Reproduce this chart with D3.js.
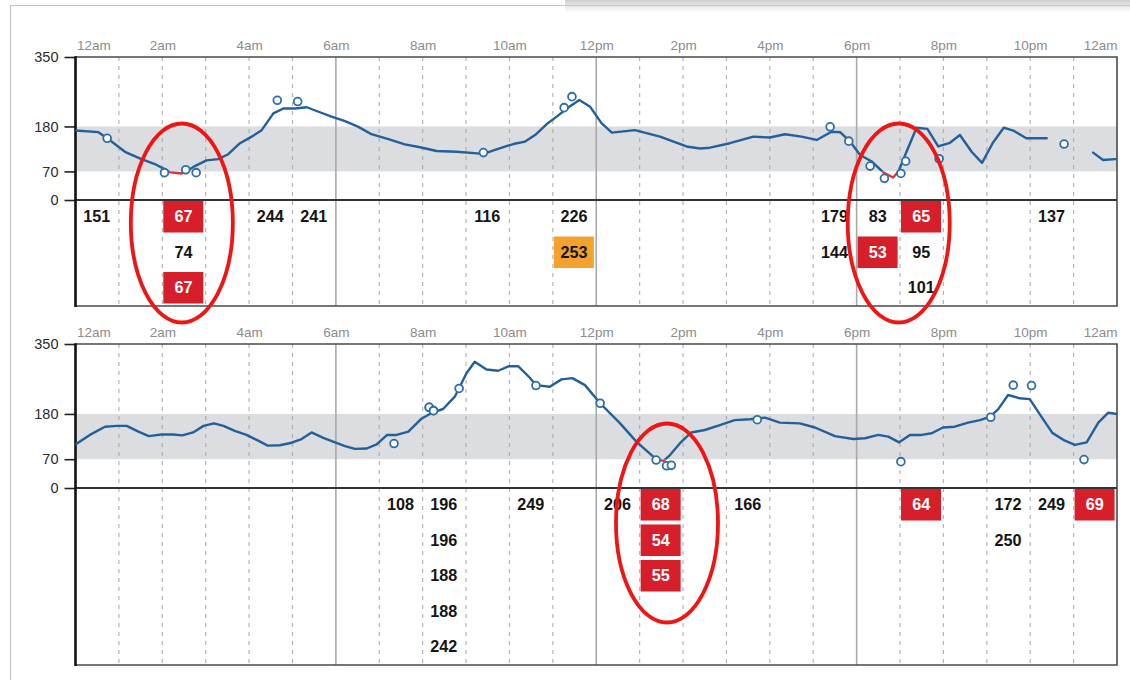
<!DOCTYPE html>
<html>
<head>
<meta charset="utf-8">
<script src="https://cdn.jsdelivr.net/npm/d3@7/dist/d3.min.js"></script>
<style>
  html, body { margin: 0; padding: 0; background: #fff; }
  svg { display: block; font-family: Arial, "Liberation Sans", Helvetica, sans-serif; }
</style>
</head>
<body>
<svg id="chart" width="1130" height="680"></svg>
<script>
// ---- data -------------------------------------------------------------
const hourLabels = ["12am", "2am", "4am", "6am", "8am", "10am", "12pm",
                    "2pm", "4pm", "6pm", "8pm", "10pm", "12am"];
const yTicks = [0, 70, 180, 350];
const targetRange = [70, 180];
const lowLimit = 70;
const highLimit = 250;

// sensor trace, [hour of day, mg/dL]; null marks a gap in the signal
const day1Sensor = [
  [0, 170], [0.53, 166], [0.83, 143], [1.14, 118], [1.52, 100], [1.83, 88],
  [2.06, 75], [2.18, 68], [2.45, 65], [2.6, 73], [2.75, 83], [3.02, 97],
  [3.29, 100], [3.52, 112], [3.79, 139], [4.06, 155], [4.29, 171], [4.56, 212],
  [4.79, 224], [5.06, 224], [5.33, 227], [5.6, 216], [5.9, 204], [6.21, 193],
  [6.52, 179], [6.82, 161], [7.21, 149], [7.59, 136], [7.94, 129], [8.32, 120],
  [8.78, 118], [9.4, 113], [9.7, 124], [10.09, 137], [10.36, 143], [10.59, 159],
  [10.86, 186], [11.09, 204], [11.32, 224], [11.61, 245], [11.86, 228], [12.12, 188],
  [12.36, 165], [12.89, 171], [13.47, 155], [14.08, 131], [14.39, 126], [14.62, 128],
  [15.08, 139], [15.62, 155], [16.0, 153], [16.35, 161], [16.73, 155], [17.08, 147],
  [17.42, 167], [17.62, 166], [17.85, 143], [18.08, 110], [18.34, 95], [18.61, 68],
  [18.84, 55], [18.96, 69], [19.15, 118], [19.38, 177], [19.63, 174], [19.88, 131],
  [20.15, 140], [20.38, 159], [20.65, 118], [20.89, 91], [21.14, 140], [21.39, 177],
  [21.61, 170], [21.91, 151], [22.38, 151], null,
  [23.45, 116], [23.68, 98], [23.95, 100], [24, 100]
];
const day2Sensor = [
  [0, 106], [0.33, 129], [0.68, 149], [0.95, 151], [1.18, 151], [1.45, 137],
  [1.69, 126], [1.98, 130], [2.25, 130], [2.46, 128], [2.71, 135], [2.95, 151],
  [3.19, 157], [3.41, 151], [3.67, 139], [3.94, 129], [4.21, 115], [4.43, 103],
  [4.71, 104], [4.98, 110], [5.21, 119], [5.44, 135], [5.71, 122], [5.98, 111],
  [6.21, 102], [6.44, 95], [6.71, 96], [6.94, 106], [7.18, 129], [7.4, 129],
  [7.67, 137], [7.98, 169], [8.24, 184], [8.47, 192], [8.74, 222], [9.01, 279],
  [9.2, 307], [9.47, 288], [9.74, 285], [9.99, 296], [10.2, 296], [10.47, 268],
  [10.61, 250], [10.93, 246], [11.2, 264], [11.45, 267], [11.74, 250], [12.09, 206],
  [12.55, 157], [12.93, 112], [13.38, 70], [13.55, 66], [13.68, 78], [13.93, 109],
  [14.19, 135], [14.5, 141], [14.85, 153], [15.19, 165], [15.54, 167], [15.89, 171],
  [16.23, 159], [16.69, 157], [17.04, 147], [17.5, 126], [17.92, 119], [18.19, 121],
  [18.5, 129], [18.73, 125], [18.98, 111], [19.23, 129], [19.5, 129], [19.73, 133],
  [19.99, 147], [20.26, 149], [20.57, 159], [20.84, 165], [21.07, 173], [21.26, 191],
  [21.49, 226], [21.76, 218], [21.99, 216], [22.26, 173], [22.51, 134], [22.8, 115],
  [23.03, 105], [23.3, 111], [23.57, 159], [23.8, 183], [24, 180]
];

// fingerstick meter readings, [hour of day, mg/dL]
const day1Meter = [
  [0.73, 151], [2.05, 67], [2.54, 74], [2.78, 67], [4.65, 244], [5.12, 241],
  [9.40, 116], [11.26, 226], [11.44, 253], [17.39, 179], [17.82, 144],
  [18.31, 83], [18.64, 53], [19.02, 65], [19.13, 95], [19.9, 101], [22.78, 137]
];
const day2Meter = [
  [7.34, 108], [8.15, 196], [8.15, 196], [8.25, 188], [8.25, 188], [8.84, 242],
  [10.61, 249], [12.09, 206], [13.38, 68], [13.62, 54], [13.73, 55], [15.71, 166],
  [19.02, 64], [21.09, 172], [21.61, 250], [22.03, 249], [23.24, 69]
];

// hours circled as low episodes, per day
const day1Callouts = [2.45, 18.97];
const day2Callouts = [13.63];

// ---- layout -----------------------------------------------------------
const W = 1130, H = 680;
const x0 = 75.5, x1 = 1117;
const panels = [
  { sensor: day1Sensor, meter: day1Meter, callouts: day1Callouts,
    top: 57, zero: 200, bottom: 306, ringCy: 23 },
  { sensor: day2Sensor, meter: day2Meter, callouts: day2Callouts,
    top: 344, zero: 488, bottom: 665, ringCy: 35 }
];
const rowStep = 35.5;

const C = {
  line: "#23609a",
  low: "#e0323a",
  band: "#dcdde0",
  grid: "#a9a9a9",
  frame: "#4a4a4a",
  hourText: "#8c8c8c",
  tickText: "#2b2b2b",
  cellText: "#151515",
  redBox: "#d71f2b",
  orangeBox: "#f3a22f",
  ring: "#f01515"
};

const svg = d3.select("#chart");
const defs = svg.append("defs");

// card outline and soft top shadow
const grad = defs.append("linearGradient").attr("id", "topShade")
  .attr("x1", 0).attr("y1", 0).attr("x2", 0).attr("y2", 1);
grad.append("stop").attr("offset", "0%").attr("stop-color", "#cfcfcf");
grad.append("stop").attr("offset", "100%").attr("stop-color", "#ffffff");
svg.append("rect").attr("x", 565).attr("y", 0).attr("width", W - 565).attr("height", 12)
  .attr("fill", "url(#topShade)");
svg.append("path")
  .attr("d", `M10.5,${H} V5.5 H${W}`)
  .attr("fill", "none").attr("stroke", "#c4c4c4").attr("stroke-width", 1.2);

const x = d3.scaleLinear().domain([0, 24]).range([x0, x1]);
const hourW = x(1) - x(0);

panels.forEach((p, pi) => {
  const g = svg.append("g");
  const y = d3.scaleLinear().domain([0, 350]).range([p.zero, p.top]);

  // target range band
  g.append("rect")
    .attr("x", x0).attr("width", x1 - x0)
    .attr("y", y(targetRange[1])).attr("height", y(targetRange[0]) - y(targetRange[1]))
    .attr("fill", C.band);

  // hourly grid
  const hours = d3.range(1, 24);
  g.selectAll("line.grid").data(hours).join("line")
    .attr("x1", d => x(d)).attr("x2", d => x(d))
    .attr("y1", p.top).attr("y2", p.bottom)
    .attr("stroke", C.grid)
    .attr("stroke-width", d => d % 6 === 0 ? 1.6 : 1.2)
    .attr("stroke-dasharray", d => d % 6 === 0 ? null : "4,5")
    .attr("opacity", d => d % 6 === 0 ? 1 : 0.85);

  // hour labels above the plot
  const hx = d3.axisTop(x).tickValues(d3.range(0, 25, 2))
    .tickFormat((d, i) => hourLabels[i]).tickSize(0).tickPadding(0);
  const hg = g.append("g").attr("transform", `translate(0,${p.top - 7})`).call(hx);
  hg.select(".domain").remove();
  hg.selectAll("text")
    .attr("fill", C.hourText).attr("font-size", 13.5).attr("font-family", null)
    .attr("dy", 0)
    .attr("text-anchor", (d, i) => i === 0 ? "start" : (d === 24 ? "end" : "middle"))
    .attr("dx", d => d === 0 ? 1 : 0);

  // y axis with ticks at the target limits
  const ya = d3.axisLeft(y).tickValues(yTicks).tickSize(11).tickPadding(6);
  const yg = g.append("g").attr("transform", `translate(${x0},0)`).call(ya);
  yg.select(".domain").remove();
  yg.selectAll("line").attr("stroke", "#222").attr("stroke-width", 1.6);
  yg.selectAll("text").attr("fill", C.tickText).attr("font-size", 14.5).attr("font-family", null);

  // frame
  g.append("path")
    .attr("d", `M${x0},${p.top} H${x1} V${p.bottom} H${x0}`)
    .attr("fill", "none").attr("stroke", C.frame).attr("stroke-width", 1.6);
  g.append("line").attr("x1", x0).attr("x2", x1).attr("y1", p.zero).attr("y2", p.zero)
    .attr("stroke", "#333").attr("stroke-width", 1.8);
  g.append("line").attr("x1", x0).attr("x2", x0).attr("y1", p.top - 0.8).attr("y2", p.bottom + 1)
    .attr("stroke", "#111").attr("stroke-width", 2.6);

  // sensor trace: blue above the low limit, red below it
  const above = `above${pi}`, below = `below${pi}`;
  defs.append("clipPath").attr("id", above).append("rect")
    .attr("x", x0).attr("y", p.top - 10).attr("width", x1 - x0).attr("height", y(lowLimit) - p.top + 10);
  defs.append("clipPath").attr("id", below).append("rect")
    .attr("x", x0).attr("y", y(lowLimit)).attr("width", x1 - x0).attr("height", p.zero - y(lowLimit));

  const line = d3.line()
    .defined(d => d !== null)
    .x(d => x(d[0])).y(d => y(d[1]));
  g.append("path").datum(p.sensor).attr("d", line)
    .attr("clip-path", `url(#${above})`)
    .attr("fill", "none").attr("stroke", C.line).attr("stroke-width", 2.4)
    .attr("stroke-linejoin", "round").attr("stroke-linecap", "round");
  g.append("path").datum(p.sensor).attr("d", line)
    .attr("clip-path", `url(#${below})`)
    .attr("fill", "none").attr("stroke", C.low).attr("stroke-width", 2.4)
    .attr("stroke-linejoin", "round");

  // meter readings on the trace
  g.selectAll("circle.meter").data(p.meter).join("circle")
    .attr("cx", d => x(d[0])).attr("cy", d => y(d[1])).attr("r", 3.9)
    .attr("fill", "#fff").attr("stroke", "#2f6fa6").attr("stroke-width", 1.8);

  // readings table: one column per hour, stacked in time order
  const cells = [];
  d3.groups(p.meter, d => Math.floor(d[0])).forEach(([hr, list]) => {
    list.sort((a, b) => a[0] - b[0]).forEach((d, row) => cells.push({ hr, row, v: d[1] }));
  });
  const cg = g.selectAll("g.cell").data(cells).join("g")
    .attr("transform", d => `translate(${x(d.hr)},${p.zero + 16.5 + d.row * rowStep})`);
  cg.filter(d => d.v < lowLimit || d.v > highLimit).append("rect")
    .attr("x", 1).attr("y", -15.5).attr("width", hourW - 3.4).attr("height", 31.5)
    .attr("fill", d => d.v < lowLimit ? C.redBox : C.orangeBox);
  cg.append("text")
    .attr("x", hourW / 2 - 0.5).attr("dy", "0.36em")
    .attr("text-anchor", "middle")
    .attr("font-size", 16.2).attr("font-weight", "bold")
    .attr("fill", d => d.v < lowLimit ? "#fff" : C.cellText)
    .text(d => d.v);

  // circled low episodes
  g.selectAll("ellipse.ring").data(p.callouts).join("ellipse")
    .attr("cx", d => x(d)).attr("cy", p.zero + p.ringCy)
    .attr("rx", 51).attr("ry", 99.5)
    .attr("fill", "none").attr("stroke", C.ring).attr("stroke-width", 3.8);
});
</script>
</body>
</html>
